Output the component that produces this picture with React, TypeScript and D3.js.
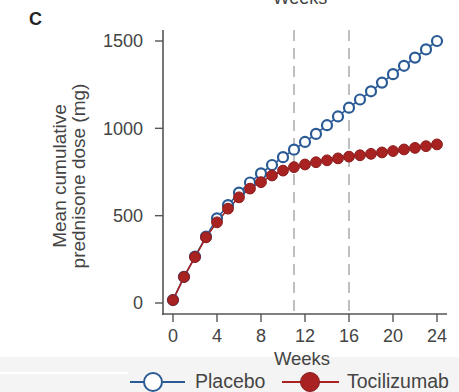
import * as d3 from "d3";

const weeks = d3.range(0, 25);
const placebo = [17, 150, 266, 380, 485, 560, 632, 690, 742, 790, 835, 878, 922, 968, 1018, 1068, 1118, 1165, 1212, 1262, 1310, 1358, 1405, 1452, 1500];
const tocilizumab = [17, 149, 263, 376, 462, 540, 605, 655, 692, 730, 758, 778, 793, 806, 817, 828, 838, 846, 854, 862, 870, 879, 888, 898, 908];
const yTicks = [0, 500, 1000, 1500];
const xTicks = [0, 4, 8, 12, 16, 20, 24];
const refWeeks = [11, 16];

const W = 459;
const H = 392;
const FONT = "'Liberation Sans', Arial, sans-serif";
const AXIS = "#555";
const TXT = "#444";
const BLUE = "#2b5b96";
const RED = "#a82222";

export default function App() {
  const x = d3.scaleLinear().domain([0, 24]).range([173, 437]);
  const y = d3.scaleLinear().domain([0, 1500]).range([303, 41]);
  const line = d3
    .line<number>()
    .x((_, i) => x(weeks[i]))
    .y((d) => y(d));

  return (
    <svg
      width={W}
      height={H}
      style={{ position: "absolute", left: 0, top: 0, background: "#fff" }}
      fontFamily={FONT}
    >
      {/* grey legend band */}
      <rect x={0} y={357} width={W} height={H - 357} fill="#f4f4f4" />
      <rect x={0} y={372} width={128} height={2} fill="#fff" />

      {/* panel letter + clipped heading from panel above */}
      <text x={29} y={25} fontSize={18} fontWeight="bold" fill="#222">C</text>
      <text x={300} y={4} fontSize={18} textAnchor="middle" fill={TXT}>Weeks</text>

      {/* reference dashed lines */}
      {refWeeks.map((w) => (
        <line
          key={w}
          x1={x(w)}
          x2={x(w)}
          y1={30}
          y2={314}
          stroke="#aaa"
          strokeWidth={1.5}
          strokeDasharray="11 7"
        />
      ))}

      {/* y axis */}
      <line x1={163} x2={163} y1={30} y2={315} stroke={AXIS} strokeWidth={1.6} />
      {yTicks.map((t) => (
        <g key={t}>
          <line x1={155} x2={163} y1={y(t)} y2={y(t)} stroke={AXIS} strokeWidth={1.4} />
          <text x={143} y={y(t)} dy="0.36em" fontSize={18} textAnchor="end" fill={TXT}>
            {t}
          </text>
        </g>
      ))}

      {/* x axis */}
      <line x1={162} x2={447} y1={314} y2={314} stroke={AXIS} strokeWidth={1.6} />
      {xTicks.map((t) => (
        <g key={t}>
          <line x1={x(t)} x2={x(t)} y1={314} y2={322} stroke={AXIS} strokeWidth={1.4} />
          <text x={x(t)} y={342} fontSize={18} textAnchor="middle" fill={TXT}>
            {t}
          </text>
        </g>
      ))}
      <text x={302} y={365} fontSize={18.5} textAnchor="middle" fill={TXT}>Weeks</text>

      {/* y axis title */}
      <g transform="translate(66,176) rotate(-90)">
        <text fontSize={19} textAnchor="middle" fill={TXT}>Mean cumulative</text>
        <text y={19} fontSize={19} textAnchor="middle" fill={TXT}>prednisone dose (mg)</text>
      </g>

      {/* series */}
      <path d={line(placebo) ?? ""} fill="none" stroke={BLUE} strokeWidth={1.6} />
      <path d={line(tocilizumab) ?? ""} fill="none" stroke={RED} strokeWidth={1.6} />
      {placebo.map((v, i) => (
        <circle key={`p${i}`} cx={x(weeks[i])} cy={y(v)} r={5} fill="#fff" stroke={BLUE} strokeWidth={2.2} />
      ))}
      {tocilizumab.map((v, i) => (
        <circle key={`t${i}`} cx={x(weeks[i])} cy={y(v)} r={5.4} fill={RED} stroke="#8c1c1c" strokeWidth={1} />
      ))}

      {/* legend */}
      <line x1={130} x2={185} y1={382} y2={382} stroke={BLUE} strokeWidth={1.8} />
      <circle cx={153} cy={382} r={9} fill="#fff" stroke={BLUE} strokeWidth={2} />
      <text x={195} y={381} dy="0.36em" fontSize={19.5} fill={TXT}>Placebo</text>
      <line x1={282} x2={339} y1={382} y2={382} stroke={RED} strokeWidth={1.8} />
      <circle cx={310} cy={382} r={9.5} fill={RED} stroke="#8c1c1c" strokeWidth={1} />
      <text x={347} y={381} dy="0.36em" fontSize={19.5} fill={TXT}>Tocilizumab</text>
    </svg>
  );
}
